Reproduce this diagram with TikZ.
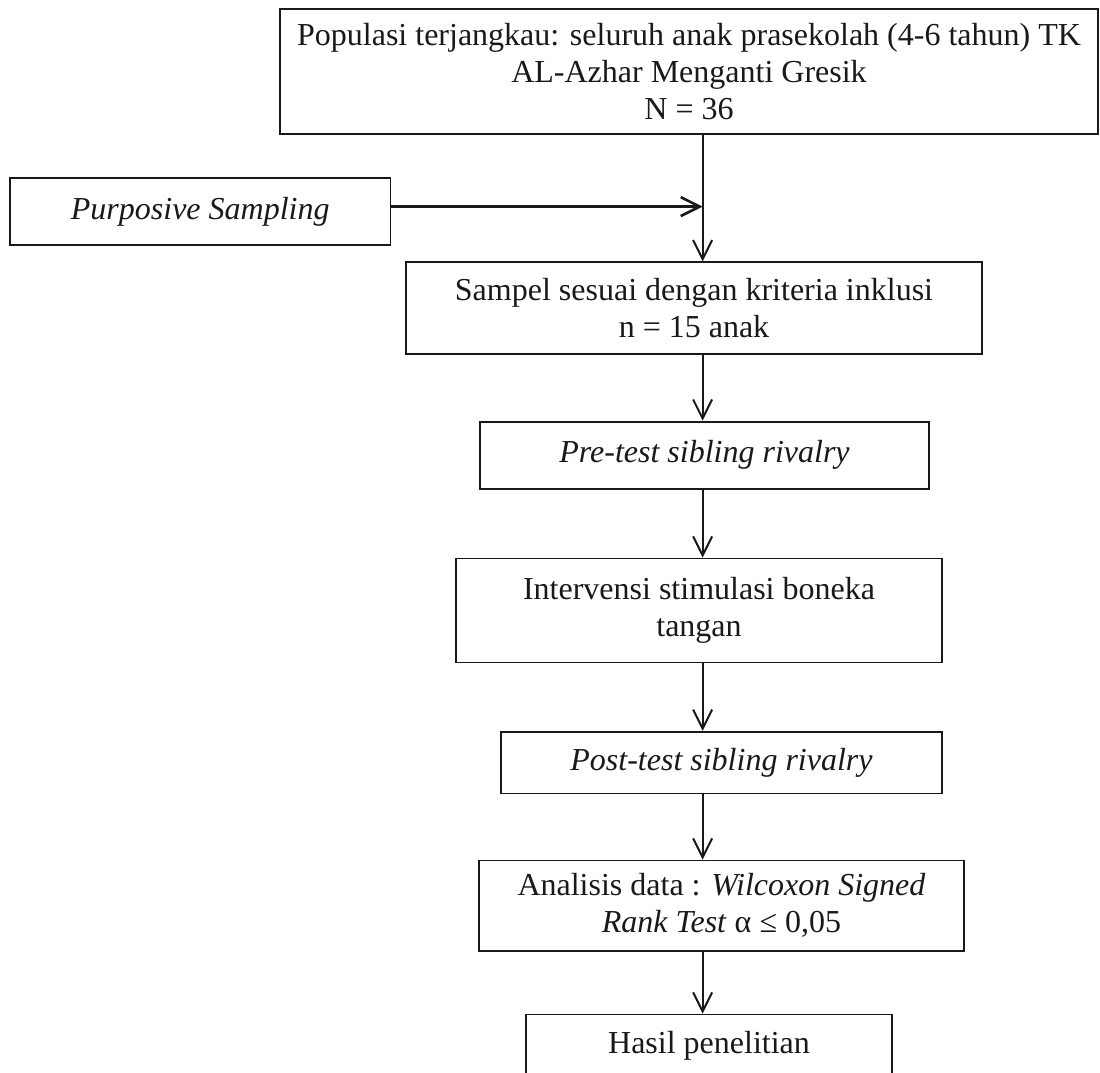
\documentclass[tikz,border=0pt]{standalone}
\usepackage{fontspec}
\setmainfont{Liberation Serif}
\usetikzlibrary{arrows.meta}
\definecolor{ink}{gray}{0.1}
\begin{document}
\begin{tikzpicture}[x=1pt,y=-1pt,
  box/.style={draw=ink, line width=1.8pt, inner sep=0pt, align=center, text=ink,
              font=\fontsize{32}{37}\selectfont},
  arr/.style={draw=ink, line width=2pt, -{Straight Barb[length=19pt,width=19pt]}},
  thickarr/.style={arr, line width=2.6pt}
]
\useasboundingbox (0,0) rectangle (1100,1073);
\fill[white] (0,0) rectangle (1100,1073);
\clip (0,0) rectangle (1100,1073);

\node[box, minimum width=818pt, minimum height=125pt] (pop) at (689,71.8)
  {Populasi terjangkau: seluruh anak prasekolah (4-6 tahun) TK\\AL-Azhar Menganti Gresik\\N = 36};
\node[box, minimum width=380.5pt, minimum height=67.5pt] (purp) at (200.25,211.5)
  {\textit{Purposive Sampling}};
\node[box, minimum width=576pt, minimum height=91.8pt] (samp) at (694,308.1)
  {Sampel sesuai dengan kriteria inklusi\\n = 15 anak};
\node[box, minimum width=449pt, minimum height=67.4pt] (pre) at (704.5,455.3)
  {\textit{Pre-test sibling rivalry}};
\node[box, minimum width=486pt, minimum height=104pt] (int) at (699,610.5)
  {Intervensi stimulasi boneka\\tangan};
\node[box, minimum width=441pt, minimum height=61.8pt] (post) at (721.5,762.6)
  {\textit{Post-test sibling rivalry}};
\node[box, minimum width=485pt, minimum height=90.3pt] (ana) at (721.5,905.65)
  {Analisis data : \textit{Wilcoxon Signed}\\\textit{Rank Test} α ≤ 0,05};
\node[box, minimum width=366pt, minimum height=62pt] (has) at (709,1045.5)
  {Hasil penelitian};

\coordinate (sp) at (702.6,206.6);

\draw[arr] (pop.south -| sp) -- (samp.north -| sp);
\draw[thickarr] (purp.east |- sp) -- (sp);
\draw[arr] (samp.south -| sp) -- (pre.north -| sp);
\draw[arr] (pre.south -| sp) -- (int.north -| sp);
\draw[arr] (int.south -| sp) -- (post.north -| sp);
\draw[arr] (post.south -| sp) -- (ana.north -| sp);
\draw[arr] (ana.south -| sp) -- (has.north -| sp);
\end{tikzpicture}
\end{document}
